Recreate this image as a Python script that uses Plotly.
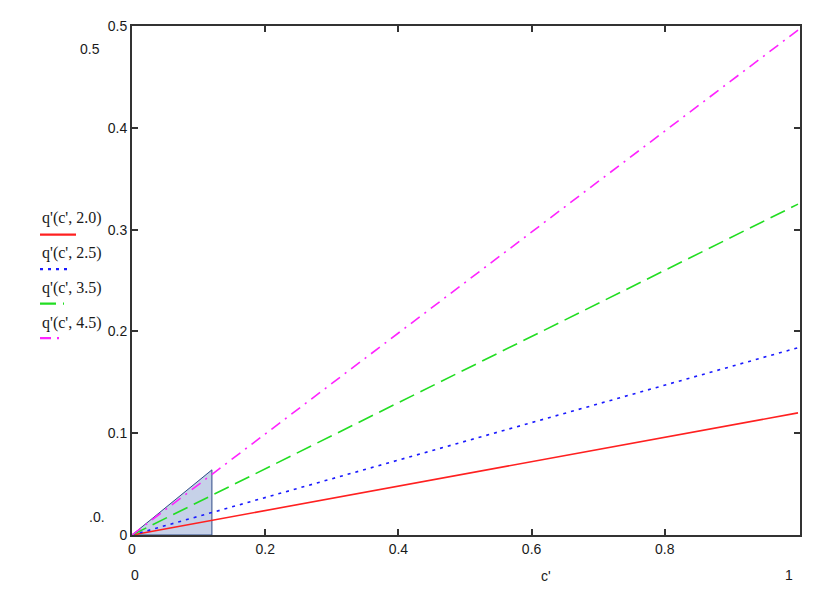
import plotly.graph_objects as go

# Data
c_vals = [0.0, 1.0]
series_names = ["q'(c', 2.0)", "q'(c', 2.5)", "q'(c', 3.5)", "q'(c', 4.5)"]
q_20 = [0.0, 0.120]
q_25 = [0.0, 0.184]
q_35 = [0.0, 0.325]
q_45 = [0.0, 0.496]
shade_x = [0.0, 0.12, 0.12, 0.0]
shade_y = [0.0, 0.064, 0.0, 0.0]
x_ticks = [0, 0.2, 0.4, 0.6, 0.8]
x_tick_text = ["0", "0.2", "0.4", "0.6", "0.8"]
y_ticks = [0, 0.1, 0.2, 0.3, 0.4, 0.5]
y_tick_text = ["0", "0.1", "0.2", "0.3", "0.4", "0.5"]

colors = ["#ff2020", "#1a1aff", "#22dd22", "#ff22ff"]
dashes = ["solid", "3px,5px", "16px,7px", "11px,6px,2px,6px"]
series = [q_20, q_25, q_35, q_45]

OFF = 8  # page body margin
W, H = 821 - OFF, 599 - OFF
L, R, T, B = 132, 800, 18, 535  # page coordinates of the plot area

def px(x):
    return (x - L) / (R - L)

def py(y):
    return (B - y) / (B - T)

fig = go.Figure()
fig.add_trace(go.Scatter(x=shade_x, y=shade_y, mode="lines", fill="toself",
                         fillcolor="#c6d1e8", line=dict(color="#2e4a86", width=1),
                         showlegend=False, hoverinfo="skip"))
for ys, col, d, nm in zip(series, colors, dashes, series_names):
    fig.add_trace(go.Scatter(x=c_vals, y=ys, mode="lines", name=nm,
                             line=dict(color=col, dash=d, width=1.6), showlegend=False))

axis_common = dict(showgrid=False, zeroline=False, showline=True, linecolor="#333333",
                   linewidth=2, mirror="ticks", ticks="inside", ticklen=6,
                   tickcolor="#333333", tickwidth=2,
                   tickfont=dict(family="Liberation Sans, Arial", size=14, color="#1a1a1a"))
fig.update_xaxes(range=[0, 1.003], tickvals=x_ticks, ticktext=x_tick_text, **axis_common)
fig.update_yaxes(range=[0, 0.5], tickvals=y_ticks, ticktext=y_tick_text, **axis_common)

ann = []
def text(x, y, s, size=14, fam="Liberation Sans, Arial", xanchor="center"):
    ann.append(dict(x=px(x), y=py(y), xref="paper", yref="paper", text=s, showarrow=False,
                    xanchor=xanchor, yanchor="middle",
                    font=dict(family=fam, size=size, color="#1a1a1a")))

# limit labels
text(90, 41, "0.5")
text(97, 517, ".0.")
text(135, 576, "0")
text(546, 577, "c'")
text(789, 576, "1")

# legend
leg_text_y = [213, 249, 284, 320]
leg_line_y = [230, 265, 300, 335]
leg_line_x2 = [76, 68, 64, 62]
for i in range(4):
    text(40, leg_text_y[i], series_names[i], size=16, fam="Liberation Serif, Times New Roman",
         xanchor="left")
shapes = []
for i in range(4):
    shapes.append(dict(type="line", xref="paper", yref="paper",
                       x0=px(40), x1=px(leg_line_x2[i]), y0=py(leg_line_y[i]), y1=py(leg_line_y[i]),
                       line=dict(color=colors[i], width=2.2, dash=dashes[i])))

fig.update_layout(width=W, height=H,
                  margin=dict(l=L - OFF, r=W - (R - OFF), t=T - OFF, b=H - (B - OFF)),
                  plot_bgcolor="white", paper_bgcolor="white",
                  annotations=ann, shapes=shapes, showlegend=False)

fig.write_html("out.html")
